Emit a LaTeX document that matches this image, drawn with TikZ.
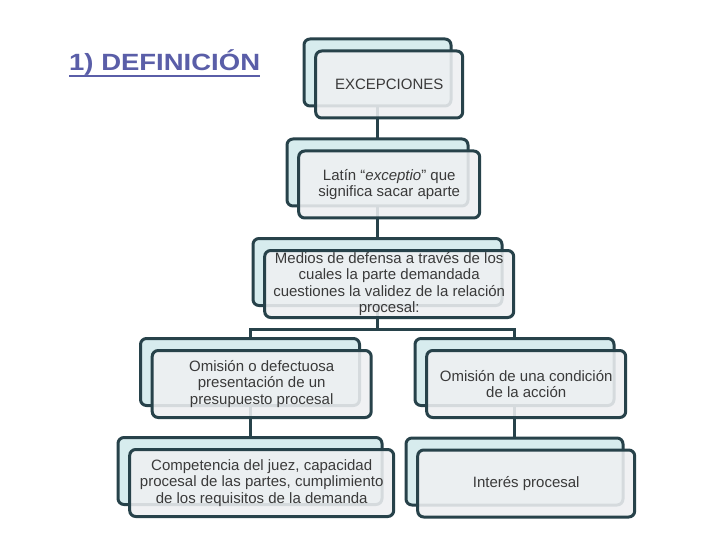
\documentclass[tikz,border=0pt]{standalone}
\usepackage{fontspec}
\setmainfont{Liberation Sans}
\newfontfamily\titlefont[FakeStretch=1.17]{Liberation Sans}
\usetikzlibrary{calc,backgrounds}
\definecolor{edge}{HTML}{27424A}
\definecolor{backfill}{HTML}{D7ECEE}
\definecolor{frontfill}{HTML}{EEF0F2}
\definecolor{titlecol}{HTML}{5A5EA8}
\definecolor{txt}{HTML}{3A3A3A}
\newcommand\pairbox[5]{%
  \node[backbox, minimum width=#4pt] (b#1) at (#2,#3) {};
  \node[frontbox, minimum width=#4pt] (f#1) at ($(b#1.center)+(11.7,12)$) {#5};}
\begin{document}
\begin{tikzpicture}[x=1pt,y=-1pt,
  backbox/.style={draw=edge, line width=3pt, fill=backfill, rounded corners=6pt,
    minimum height=67pt, inner sep=0pt},
  frontbox/.style={draw=edge, line width=3pt, fill=frontfill, fill opacity=0.88,
    text opacity=1, rounded corners=6pt, minimum height=67pt, inner sep=0pt,
    align=center, text=txt, font=\fontsize{15}{16.3}\selectfont},
  link/.style={draw=edge, line width=3pt}]
\useasboundingbox (0,0) rectangle (720,540);

\node[anchor=base west, inner sep=0pt, text=titlecol,
  font=\titlefont\fontsize{23.5}{28}\selectfont\bfseries] (title) at (69,71) {1) DEFINICIÓN};
\draw[titlecol, line width=2pt] ($(title.base west)+(0,4.7)$) -- ($(title.base east)+(0,4.7)$);

\pairbox{1}{377.5}{72.5}{147}{EXCEPCIONES}
\pairbox{2}{377.5}{172.5}{181}{Latín “\textit{exceptio}” que\\significa sacar aparte}
\pairbox{3}{377.5}{272}{249}{Medios de defensa a través de los\\cuales la parte demandada\\cuestiones la validez de la relación\\procesal:}
\pairbox{4}{250}{372}{219}{Omisión o defectuosa\\presentación de un\\presupuesto procesal}
\pairbox{5}{514.5}{372}{199}{Omisión de una condición\\de la acción}
\pairbox{6}{250}{471}{264}{Competencia del juez, capacidad\\procesal de las partes, cumplimiento\\de los requisitos de la demanda}
\pairbox{7}{514.5}{471.5}{217}{Interés procesal}

\begin{scope}[on background layer]
  \fill[white] (0,0) rectangle (720,540);
  \coordinate (bar) at (377.5,329);
  \draw[link] (b1.center) -- (b2.center);
  \draw[link] (b2.center) -- (b3.center);
  \draw[link] (b3.center) -- (bar);
  \draw[link] (b4.center) |- (bar) -| (b5.center);
  \draw[link] (b4.center) -- (b6.center);
  \draw[link] (b5.center) -- (b7.center);
\end{scope}
\end{tikzpicture}
\end{document}
